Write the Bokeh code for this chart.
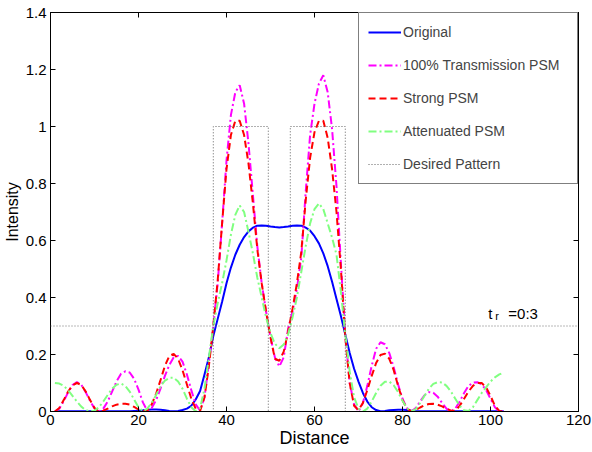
from bokeh.plotting import figure
from bokeh.models import Legend, LegendItem, LinearAxis, Span, Label, FixedTicker, Range1d
from bokeh.embed import file_html
from bokeh.resources import INLINE

# ---- data ----
distance = list(range(1, 104))

original = [
    0.001, 0.001, 0.001, 0.001, 0.001, 0.001, 0.001, 0.001, 0.001, 0.001,
    0.001, 0.001, 0.001, 0.001, 0.001, 0.001, 0.001, 0.001, 0.002, 0.003,
    0.004, 0.006, 0.007, 0.007, 0.006, 0.004, 0.002, 0.001, 0.002, 0.005,
    0.010, 0.020, 0.042, 0.072, 0.130, 0.190, 0.265, 0.325, 0.385, 0.450,
    0.505, 0.550, 0.585, 0.612, 0.632, 0.645, 0.652, 0.653, 0.652, 0.649,
    0.647, 0.646, 0.647, 0.649, 0.652, 0.653, 0.652, 0.645, 0.635, 0.615,
    0.590, 0.555, 0.510, 0.455, 0.395, 0.335, 0.270, 0.205, 0.150, 0.105,
    0.065, 0.035, 0.015, 0.005, 0.001, 0.002, 0.004, 0.005, 0.006, 0.006,
    0.005, 0.003, 0.001, 0.001, 0.001, 0.001, 0.001, 0.001, 0.001, 0.001,
    0.001, 0.001, 0.001, 0.001, 0.001, 0.001, 0.001, 0.001, 0.001, 0.001,
    0.001, 0.001, 0.001,
]

transmission_psm = [
    0.000, 0.010, 0.036, 0.067, 0.093, 0.103, 0.094, 0.068, 0.037, 0.011,
    0.000, 0.010, 0.035, 0.070, 0.105, 0.132, 0.141, 0.137, 0.115, 0.077,
    0.032, 0.003, 0.012, 0.040, 0.080, 0.125, 0.163, 0.190, 0.195, 0.175,
    0.130, 0.075, 0.025, 0.003, 0.050, 0.170, 0.300, 0.450, 0.660, 0.880,
    1.040, 1.120, 1.145, 1.080, 0.940, 0.760, 0.580, 0.450, 0.350, 0.260,
    0.190, 0.158, 0.190, 0.290, 0.350, 0.430, 0.540, 0.770, 0.970, 1.080,
    1.150, 1.180, 1.120, 0.990, 0.790, 0.520, 0.270, 0.100, 0.025, 0.000,
    0.030, 0.090, 0.160, 0.220, 0.243, 0.236, 0.205, 0.155, 0.095, 0.045,
    0.012, 0.000, 0.012, 0.035, 0.057, 0.068, 0.066, 0.052, 0.030, 0.010,
    0.000, 0.010, 0.035, 0.065, 0.090, 0.101, 0.103, 0.095, 0.075, 0.045,
    0.015, 0.000, 0.000,
]

strong_psm = [
    0.000, 0.012, 0.040, 0.070, 0.092, 0.100, 0.093, 0.070, 0.040, 0.012,
    0.000, 0.003, 0.010, 0.018, 0.024, 0.027, 0.027, 0.024, 0.016, 0.007,
    0.001, 0.003, 0.025, 0.062, 0.110, 0.160, 0.195, 0.202, 0.185, 0.145,
    0.095, 0.045, 0.010, 0.002, 0.050, 0.160, 0.300, 0.460, 0.660, 0.850,
    0.970, 1.020, 1.020, 0.970, 0.870, 0.730, 0.570, 0.450, 0.350, 0.260,
    0.185, 0.178, 0.210, 0.280, 0.360, 0.450, 0.560, 0.740, 0.890, 0.980,
    1.020, 1.020, 0.960, 0.850, 0.700, 0.500, 0.260, 0.100, 0.020, 0.005,
    0.030, 0.075, 0.125, 0.170, 0.198, 0.203, 0.185, 0.145, 0.090, 0.040,
    0.010, 0.001, 0.005, 0.014, 0.022, 0.026, 0.027, 0.024, 0.018, 0.010,
    0.003, 0.003, 0.020, 0.045, 0.070, 0.090, 0.100, 0.100, 0.085, 0.055,
    0.020, 0.002, 0.000,
]

attenuated_psm = [
    0.100, 0.098, 0.090, 0.075, 0.055, 0.035, 0.017, 0.005, 0.000, 0.003,
    0.015, 0.035, 0.058, 0.080, 0.094, 0.098, 0.090, 0.070, 0.042, 0.015,
    0.001, 0.010, 0.030, 0.058, 0.088, 0.108, 0.118, 0.118, 0.105, 0.080,
    0.045, 0.015, 0.001, 0.012, 0.080, 0.190, 0.300, 0.380, 0.450, 0.530,
    0.620, 0.690, 0.723, 0.700, 0.630, 0.555, 0.470, 0.400, 0.330, 0.275,
    0.238, 0.222, 0.235, 0.270, 0.330, 0.400, 0.490, 0.580, 0.660, 0.710,
    0.730, 0.710, 0.660, 0.610, 0.550, 0.420, 0.270, 0.140, 0.050, 0.010,
    0.000, 0.010, 0.035, 0.065, 0.090, 0.104, 0.105, 0.092, 0.068, 0.038,
    0.012, 0.000, 0.008, 0.030, 0.055, 0.080, 0.097, 0.103, 0.102, 0.090,
    0.070, 0.045, 0.020, 0.004, 0.002, 0.015, 0.040, 0.065, 0.085, 0.105,
    0.120, 0.130, 0.137,
]

desired_x = [0, 37, 37, 49.5, 49.5, 54.5, 54.5, 67, 67, 104]
desired_y = [0, 0, 1, 1, 0, 0, 1, 1, 0, 0]

threshold = 0.3

x_ticks = [0, 20, 40, 60, 80, 100, 120]
y_ticks = [0, 0.2, 0.4, 0.6, 0.8, 1.0, 1.2, 1.4]
y_tick_labels = ["0", "0.2", "0.4", "0.6", "0.8", "1", "1.2", "1.4"]

FONT = "Liberation Sans"

p = figure(width=592, height=452,
           x_range=Range1d(0, 120), y_range=Range1d(0, 1.4),
           output_backend="svg", toolbar_location=None,
           min_border_left=50, min_border_right=14,
           min_border_top=12, min_border_bottom=41)

p.grid.visible = False
p.outline_line_color = "black"
p.outline_line_width = 1
p.background_fill_color = "white"
p.border_fill_color = "white"

for ax in (p.xaxis[0], p.yaxis[0]):
    ax.major_tick_in = 5
    ax.major_tick_out = 0
    ax.minor_tick_line_color = None
    ax.axis_line_color = "black"
    ax.major_tick_line_color = "black"
    ax.major_label_text_font = FONT
    ax.major_label_text_font_size = "15px"
    ax.major_label_text_color = "black"
    ax.axis_label_text_font = FONT
    ax.axis_label_text_font_style = "normal"
    ax.axis_label_text_color = "black"

p.xaxis[0].ticker = FixedTicker(ticks=x_ticks)
p.xaxis[0].major_label_standoff = 3
p.xaxis[0].axis_label = "Distance"
p.xaxis[0].axis_label_text_font_size = "18px"
p.xaxis[0].axis_label_standoff = 0

p.yaxis[0].ticker = FixedTicker(ticks=y_ticks)
p.yaxis[0].major_label_overrides = {t: s for t, s in zip(y_ticks, y_tick_labels)}
p.yaxis[0].major_label_standoff = 4
p.yaxis[0].axis_label = "Intensity"
p.yaxis[0].axis_label_text_font_size = "16px"
p.yaxis[0].axis_label_standoff = 2

right_ax = LinearAxis(ticker=FixedTicker(ticks=y_ticks), major_tick_in=5, major_tick_out=0,
                      minor_tick_line_color=None,
                      major_label_overrides={t: "" for t in y_ticks},
                      major_label_standoff=0, axis_line_color="black")
top_ax = LinearAxis(ticker=FixedTicker(ticks=x_ticks), major_tick_in=5, major_tick_out=0,
                    minor_tick_line_color=None,
                    major_label_overrides={t: "" for t in x_ticks},
                    major_label_standoff=0, axis_line_color="black")
p.add_layout(right_ax, "right")
p.add_layout(top_ax, "above")

thr = Span(location=threshold, dimension="width", line_color="#707070",
           line_width=1, line_dash="1 2")
p.add_layout(thr)

r_orig = p.line(distance, original, line_color="#0000ff", line_width=2)
r_tr = p.line(distance, transmission_psm, line_color="#ff00ff", line_width=2,
              line_dash="8 3 2 3")
r_st = p.line(distance, strong_psm, line_color="#ff0000", line_width=2,
              line_dash="7 4")
r_at = p.line(distance, attenuated_psm, line_color="#80ff80", line_width=2,
              line_dash="8 3 2 3")
r_de = p.line(desired_x, desired_y, line_color="#606060", line_width=1,
              line_dash="1 2")

legend = Legend(items=[
    LegendItem(label="Original", renderers=[r_orig]),
    LegendItem(label="100% Transmission PSM", renderers=[r_tr]),
    LegendItem(label="Strong PSM", renderers=[r_st]),
    LegendItem(label="Attenuated PSM", renderers=[r_at]),
    LegendItem(label="Desired Pattern", renderers=[r_de]),
], location="top_right", margin=0, padding=9, spacing=13,
    glyph_width=33, glyph_height=20, label_height=20, label_width=165,
    label_standoff=2, label_text_font=FONT, label_text_font_size="14px",
    border_line_color="black", border_line_width=1,
    background_fill_color="white", background_fill_alpha=1.0)
p.add_layout(legend)

p.add_layout(Label(x=99.5, y=0.344, text="t", text_font=FONT,
                   text_font_size="15px", text_baseline="alphabetic", text_color="black"))
p.add_layout(Label(x=99.5, y=0.344, text="r", x_offset=7, y_offset=-3, text_font=FONT,
                   text_font_size="11px", text_baseline="alphabetic", text_color="black"))
p.add_layout(Label(x=99.5, y=0.344, text="=0:3", x_offset=20, text_font=FONT,
                   text_font_size="15px", text_baseline="alphabetic", text_color="black"))

open("out.html", "w").write(file_html(p, INLINE))
